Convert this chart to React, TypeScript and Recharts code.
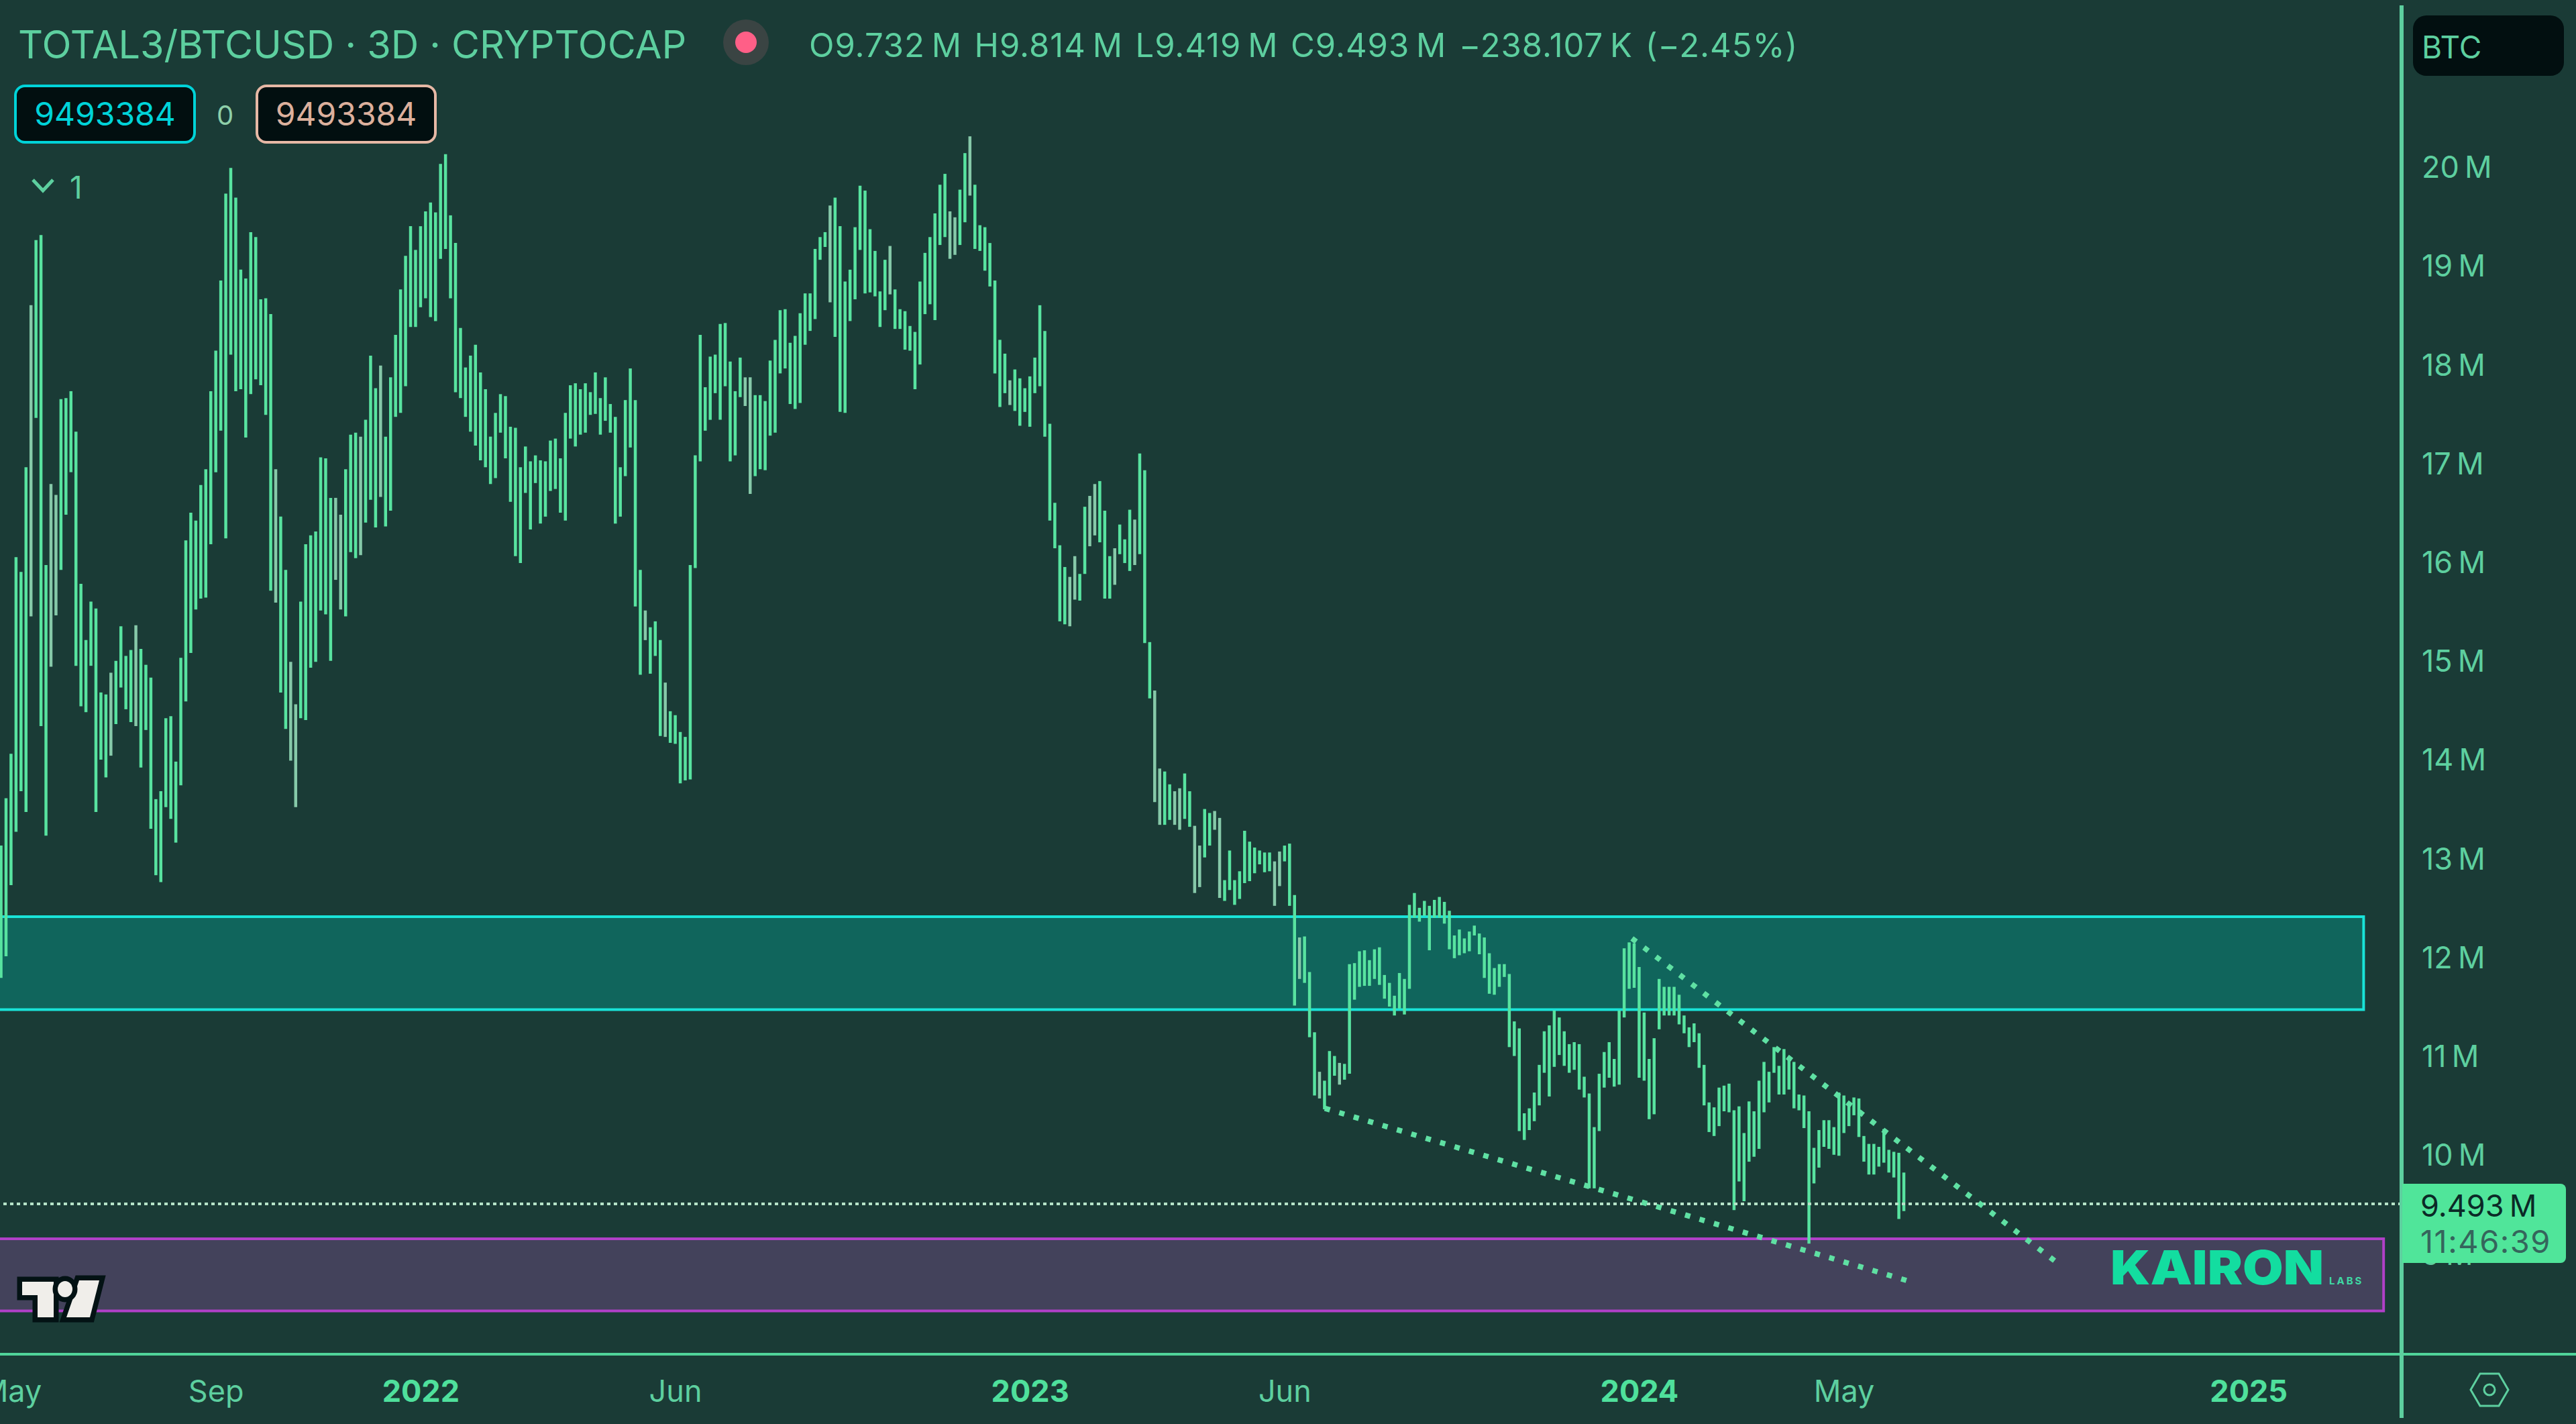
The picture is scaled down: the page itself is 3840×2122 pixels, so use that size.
import React from 'react';
import { ComposedChart, Bar, Cell, XAxis, YAxis, ReferenceArea, ReferenceLine } from 'recharts';

// 3D bars, millions
const highs = [
  13.12, 13.6, 14.05, 16.04, 15.89, 16.95, 18.59, 19.25, 19.3, 15.96,
  16.78, 16.67, 17.64, 17.65, 17.72, 17.31, 15.77, 15.2, 15.59, 15.52,
  14.67, 14.65, 14.87, 14.99, 15.34, 15.04, 15.1, 15.35, 15.11, 14.95,
  14.82, 13.59, 13.67, 14.41, 14.43, 13.97, 15.02, 16.21, 16.49, 16.41,
  16.77, 16.93, 17.72, 18.13, 18.84, 19.72, 19.98, 19.68, 18.95, 18.86,
  19.33, 19.28, 18.65, 18.66, 18.5, 16.93, 16.45, 15.91, 14.98, 14.55,
  15.59, 16.17, 16.26, 16.3, 17.05, 17.04, 16.64, 16.64, 16.47, 16.93,
  17.28, 17.3, 17.26, 17.43, 18.08, 17.75, 17.98, 17.26, 17.86, 18.29,
  18.75, 19.09, 19.39, 19.15, 19.39, 19.54, 19.63, 19.53, 20.02, 20.12,
  19.5, 19.22, 18.36, 17.96, 18.08, 18.19, 17.91, 17.74, 17.26, 17.5,
  17.69, 17.67, 17.36, 17.35, 16.95, 17.16, 17.01, 17.07, 17.02, 17.01,
  17.22, 17.24, 17.04, 17.5, 17.78, 17.8, 17.74, 17.8, 17.71, 17.91,
  17.65, 17.86, 17.59, 17.46, 16.95, 17.63, 17.95, 17.63, 15.91, 15.5,
  15.33, 15.39, 15.2, 14.77, 14.48, 14.44, 14.27, 14.22, 15.96, 17.07,
  18.29, 17.76, 18.07, 18.09, 18.4, 18.41, 18.02, 17.72, 18.06, 17.86,
  17.86, 17.68, 17.68, 17.62, 18.03, 18.24, 18.54, 18.55, 18.21, 18.28,
  18.51, 18.71, 18.71, 19.16, 19.28, 19.33, 19.6, 19.68, 19.39, 18.83,
  18.95, 19.38, 19.8, 19.75, 19.36, 19.14, 18.73, 19.05, 19.19, 18.75,
  18.55, 18.53, 18.38, 18.32, 18.83, 19.12, 19.28, 19.52, 19.81, 19.92,
  19.54, 19.48, 19.76, 20.13, 20.3, 19.81, 19.4, 19.38, 19.22, 18.84,
  18.24, 18.1, 17.83, 17.94, 17.85, 17.75, 17.87, 18.06, 18.59, 18.33,
  17.39, 16.59, 16.16, 15.94, 15.84, 16.05, 15.87, 16.55, 16.66, 16.78,
  16.81, 16.51, 16.05, 16.13, 16.37, 16.22, 16.52, 16.42, 17.09, 16.92,
  15.18, 14.69, 13.9, 13.87, 13.74, 13.67, 13.7, 13.85, 13.67, 13.32,
  13.12, 13.49, 13.45, 13.47, 13.4, 12.77, 13.07, 12.77, 12.86, 13.27,
  13.16, 13.1, 13.07, 13.05, 13.05, 12.96, 13.06, 13.12, 13.14, 12.62,
  12.19, 12.2, 11.84, 11.23, 10.83, 10.74, 11.04, 10.99, 10.92, 10.91,
  11.92, 11.93, 12.05, 12.06, 11.96, 12.07, 12.09, 11.81, 11.73, 11.6,
  11.83, 11.77, 12.52, 12.64, 12.49, 12.56, 12.51, 12.57, 12.6, 12.55,
  12.46, 12.21, 12.27, 12.18, 12.25, 12.31, 12.23, 12.19, 12.03, 11.88,
  11.92, 11.92, 11.82, 11.34, 11.27, 10.41, 10.46, 10.62, 10.9, 11.24,
  11.3, 11.45, 11.38, 11.24, 11.11, 11.13, 11.11, 10.78, 10.61, 10.27,
  10.81, 11.03, 11.13, 10.96, 11.45, 12.08, 12.14, 12.13, 11.89, 11.43,
  10.96, 11.17, 11.77, 11.69, 11.69, 11.69, 11.61, 11.4, 11.28, 11.32,
  11.22, 10.9, 10.52, 10.47, 10.67, 10.69, 10.71, 10.44, 10.48, 10.21,
  10.53, 10.43, 10.74, 10.93, 10.83, 11.08, 10.89, 11.06, 10.98, 10.93,
  10.6, 10.59, 10.43, 10.06, 10.24, 10.34, 10.34, 10.27, 10.62, 10.59,
  10.49, 10.57, 10.56, 10.18, 10.1, 10.1, 10.07, 10.25, 10.04, 10.02,
  10.01, 9.81,
];

const lows = [
  11.78, 12.0, 12.72, 13.26, 13.67, 13.46, 15.44, 17.45, 14.33, 13.22,
  14.93, 15.45, 15.91, 16.47, 16.9, 14.94, 14.53, 14.47, 14.94, 13.46,
  13.99, 13.81, 14.03, 14.35, 14.72, 14.5, 14.37, 14.33, 13.91, 14.29,
  13.29, 12.82, 12.75, 13.51, 13.39, 13.15, 13.73, 14.58, 15.07, 15.51,
  15.62, 15.63, 16.17, 16.9, 17.32, 16.23, 18.09, 17.72, 17.74, 17.25,
  17.69, 17.84, 17.78, 17.48, 15.7, 15.58, 14.67, 14.3, 13.98, 13.51,
  14.41, 14.39, 14.92, 14.98, 15.5, 15.46, 14.99, 15.81, 15.51, 15.44,
  16.09, 16.03, 16.06, 16.39, 16.62, 16.34, 16.65, 16.35, 16.51, 17.46,
  17.5, 17.77, 18.37, 18.37, 18.57, 18.66, 18.47, 18.43, 19.06, 19.16,
  18.66, 17.71, 17.65, 17.46, 17.31, 17.17, 17.02, 16.95, 16.78, 16.84,
  17.3, 17.04, 16.6, 16.05, 15.98, 16.69, 16.32, 16.79, 16.38, 16.45,
  16.71, 16.73, 16.49, 16.41, 17.24, 17.16, 17.28, 17.3, 17.48, 17.49,
  17.28, 17.42, 17.3, 16.38, 16.45, 16.86, 17.15, 15.54, 14.85, 15.2,
  14.86, 15.04, 14.23, 14.22, 14.16, 14.15, 13.75, 13.78, 13.79, 15.93,
  17.01, 17.32, 17.43, 17.7, 17.43, 17.77, 17.01, 17.07, 17.66, 17.57,
  16.68, 16.86, 16.93, 16.92, 17.27, 17.3, 17.9, 17.95, 17.59, 17.54,
  17.6, 18.19, 18.33, 18.45, 19.05, 19.18, 18.62, 18.27, 17.51, 17.5,
  18.43, 18.65, 19.15, 18.71, 18.72, 18.68, 18.37, 18.54, 18.7, 18.35,
  18.35, 18.14, 18.13, 17.74, 17.99, 18.5, 18.6, 18.44, 19.2, 19.28,
  19.06, 19.1, 19.2, 19.43, 19.7, 19.16, 19.14, 18.94, 18.78, 17.9,
  17.56, 17.7, 17.58, 17.52, 17.37, 17.51, 17.36, 17.7, 17.77, 17.26,
  16.41, 16.13, 15.39, 15.36, 15.34, 15.61, 15.6, 15.87, 16.15, 16.26,
  16.19, 15.62, 15.62, 15.76, 16.07, 15.98, 15.9, 15.96, 16.07, 15.17,
  14.61, 13.56, 13.33, 13.33, 13.38, 13.33, 13.28, 13.39, 13.31, 12.64,
  12.7, 13.0, 13.12, 13.28, 12.59, 12.56, 12.67, 12.52, 12.58, 12.74,
  12.76, 12.84, 12.93, 12.85, 12.86, 12.51, 12.71, 12.96, 12.51, 11.5,
  11.77, 11.73, 11.18, 10.59, 10.56, 10.45, 10.59, 10.79, 10.7, 10.75,
  10.81, 11.56, 11.69, 11.7, 11.7, 11.77, 11.71, 11.57, 11.49, 11.4,
  11.47, 11.41, 11.67, 12.39, 12.35, 12.41, 12.06, 12.39, 12.39, 12.33,
  12.07, 11.98, 12.01, 12.03, 12.05, 12.21, 12.02, 11.78, 11.62, 11.61,
  11.69, 11.79, 11.08, 10.99, 10.23, 10.14, 10.24, 10.33, 10.49, 10.82,
  10.58, 10.88, 11.0, 10.89, 10.82, 10.85, 10.65, 10.57, 9.65, 9.65,
  10.23, 10.67, 10.77, 10.68, 10.7, 11.38, 11.67, 11.68, 10.77, 10.74,
  10.35, 10.4, 11.26, 11.4, 11.4, 11.4, 11.31, 11.22, 11.08, 11.13,
  10.87, 10.49, 10.22, 10.18, 10.28, 10.43, 10.42, 9.43, 9.72, 9.52,
  9.92, 9.97, 10.05, 10.42, 10.52, 10.82, 10.6, 10.6, 10.65, 10.46,
  10.44, 10.26, 9.09, 9.7, 9.86, 10.07, 10.05, 9.99, 9.98, 10.21,
  10.28, 10.39, 10.17, 9.92, 9.79, 9.79, 9.87, 9.91, 9.81, 9.76,
  9.34, 9.42,
];

// bars drawn in the greyer tone
const mutedBars = [
  6, 10, 11, 22, 27, 55, 58, 59, 67, 68, 72, 76, 129, 133, 149, 150, 166, 178, 190, 191,
  194, 202, 214, 215, 218, 219, 223, 227, 231, 232, 235, 236, 239, 240, 243, 244, 255, 256,
  260, 264, 268,
];

const yTicks = [9, 10, 11, 12, 13, 14, 15, 16, 17, 18, 19, 20];
const xTicks = [2, 43, 84, 135, 206, 257, 328, 369, 450];
const xLabels = ['May', 'Sep', '2022', 'Jun', '2023', 'Jun', '2024', 'May', '2025'];

const tealZone = [11.46, 12.4];
const purpleZone = [8.41, 9.14];
const lastPrice = 9.493;

const chartData = highs.map((high, i) => ({ i, range: [lows[i], high] }));

const GREEN = '#58e3a0';
const MUTED = '#86c9a9';
const AXIS = '#5dcf9f';
const FONT = 'Inter, sans-serif';

const TimeTick = ({ x, y, payload }: any) => {
  const label = xLabels[xTicks.indexOf(payload.value)];
  const isYear = /^\d+$/.test(label);
  return (
    <text x={x} y={y} dy={69} textAnchor="middle" fill={isYear ? '#4fe09c' : AXIS} fontFamily={FONT} fontSize={45} fontWeight={isYear ? 700 : 400}>
      {label}
    </text>
  );
};

const abs = (left: number, top: number, extra: React.CSSProperties = {}): React.CSSProperties => ({
  position: 'absolute',
  left,
  top,
  whiteSpace: 'pre',
  lineHeight: 1,
  fontFamily: FONT,
  ...extra,
});

const badge = (left: number, width: number, border: string, color: string) =>
  abs(left, 126, {
    width,
    height: 88,
    boxSizing: 'border-box',
    background: '#020f10',
    border: `4px solid ${border}`,
    borderRadius: 16,
    color,
    fontSize: 48,
    textAlign: 'center',
    lineHeight: '80px',
  });

const App = () => (
  <div style={{ position: 'absolute', left: 0, top: 0, width: 3840, height: 2122, background: '#1a3b36', overflow: 'hidden' }}>
    <ComposedChart width={3840} height={2122} data={chartData} margin={{ top: 0, right: 0, bottom: 0, left: 0 }}>
      <XAxis
        dataKey="i"
        type="number"
        domain={[-0.27, 480.6]}
        allowDataOverflow
        ticks={xTicks}
        interval={0}
        height={104}
        axisLine={false}
        tickLine={false}
        tickSize={0}
        tick={<TimeTick />}
      />
      <YAxis
        orientation="right"
        width={260}
        domain={[7.971, 21.68]}
        allowDataOverflow
        ticks={yTicks}
        interval={0}
        axisLine={false}
        tickLine={false}
        tickSize={0}
        tickMargin={30}
        dy={2}
        tick={{ fill: AXIS, fontSize: 45, fontFamily: FONT }}
        tickFormatter={(v: number) => `${v}\u2009M`}
      />
      <ReferenceArea ifOverflow="hidden" x1={-5} x2={473} y1={tealZone[0]} y2={tealZone[1]} fill="#10655c" fillOpacity={1} stroke="#19e3d8" strokeWidth={4} />
      <ReferenceArea ifOverflow="hidden" x1={-5} x2={477} y1={purpleZone[0]} y2={purpleZone[1]} fill="#43425b" fillOpacity={1} stroke="#b040c8" strokeWidth={4} />
      <ReferenceLine y={lastPrice} stroke="#b5e3c8" strokeWidth={4} strokeDasharray="5 5" />
      <Bar dataKey="range" barSize={4.5} isAnimationActive={false}>
        {chartData.map((d) => (
          <Cell key={d.i} fill={mutedBars.includes(d.i) ? MUTED : GREEN} />
        ))}
      </Bar>
      <ReferenceLine
        segment={[{ x: 265, y: 10.46 }, { x: 382, y: 8.71 }]}
        stroke="#5fe0a3"
        strokeWidth={8}
        strokeDasharray="8 14.4"
      />
      <ReferenceLine
        segment={[{ x: 326.5, y: 12.18 }, { x: 412.6, y: 8.86 }]}
        stroke="#5fe0a3"
        strokeWidth={8}
        strokeDasharray="8 14.4"
      />
    </ComposedChart>

    {/* frame lines */}
    <div style={{ position: 'absolute', left: 0, top: 2016, width: 3840, height: 4, background: '#50d49a' }} />
    <div style={{ position: 'absolute', left: 3577, top: 8, width: 6, height: 2105, background: AXIS }} />

    {/* header */}
    <div style={abs(27, 38, { color: AXIS, fontSize: 57.5 })}>TOTAL3/BTCUSD · 3D · CRYPTOCAP</div>
    <div style={abs(1078, 29, { width: 68, height: 68, borderRadius: 34, background: '#3a4443' })} />
    <div style={abs(1096, 47, { width: 32, height: 32, borderRadius: 16, background: '#ff5f87' })} />
    <div style={abs(1206, 43, { color: AXIS, fontSize: 49, letterSpacing: 0.95, wordSpacing: 4 })}>O9.732{'\u2009'}M H9.814{'\u2009'}M L9.419{'\u2009'}M C9.493{'\u2009'}M −238.107{'\u2009'}K (−2.45%)</div>
    <div style={badge(21, 271, '#00d3d8', '#00d3d8')}>9493384</div>
    <div style={abs(323, 152, { color: '#8ecfa9', fontSize: 40 })}>0</div>
    <div style={badge(381, 270, '#e6b8a5', '#dcb09c')}>9493384</div>
    <svg style={{ position: 'absolute', left: 44, top: 262 }} width={40} height={30}>
      <polyline points="5,6 20,22 35,6" fill="none" stroke={AXIS} strokeWidth={5} />
    </svg>
    <div style={abs(104, 256, { color: AXIS, fontSize: 46 })}>1</div>

    {/* price scale bits */}
    <div style={abs(3597, 23, { width: 225, height: 90, background: '#020f10', borderRadius: 20, color: AXIS, fontSize: 46, lineHeight: '94px', textIndent: 13 })}>BTC</div>
    <div style={abs(3581, 1764, { width: 244, height: 118, background: '#50e59a', borderRadius: '0 8px 8px 0' })} />
    <div style={abs(3608, 1774, { color: '#0b2a27', fontSize: 45 })}>9.493{'\u2009'}M</div>
    <div style={abs(3608, 1826, { color: '#35655c', fontSize: 47, letterSpacing: 1.5 })}>11:46:39</div>

    {/* logos */}
    <div style={abs(3146, 1854, { color: '#13dda0', fontSize: 70, fontWeight: 900, letterSpacing: 0, transform: 'scaleX(1.12)', transformOrigin: 'left top' })}>KAIRON</div>
    <div style={abs(3472, 1901, { color: '#3fd9a4', fontSize: 15, fontWeight: 700, letterSpacing: 3 })}>LABS</div>
    <svg style={{ position: 'absolute', left: 0, top: 1880 }} width={180} height={110}>
      <g fill="#f0eeea" stroke="#031214" strokeWidth={15} paintOrder="stroke" strokeLinejoin="miter">
        <polygon points="33,30 80,30 80,83 56,83 56,50 33,50" />
        <polygon points="118,28 148,28 134,83 99,83" />
        <ellipse cx={97} cy={41} rx={11} ry={12} />
      </g>
    </svg>
    <svg style={{ position: 'absolute', left: 3680, top: 2040 }} width={62} height={62}>
      <polygon points="3,31 17,7 45,7 59,31 45,55 17,55" fill="none" stroke={AXIS} strokeWidth={3} />
      <circle cx={31} cy={31} r={8} fill="none" stroke={AXIS} strokeWidth={3} />
    </svg>
  </div>
);

export default App;
